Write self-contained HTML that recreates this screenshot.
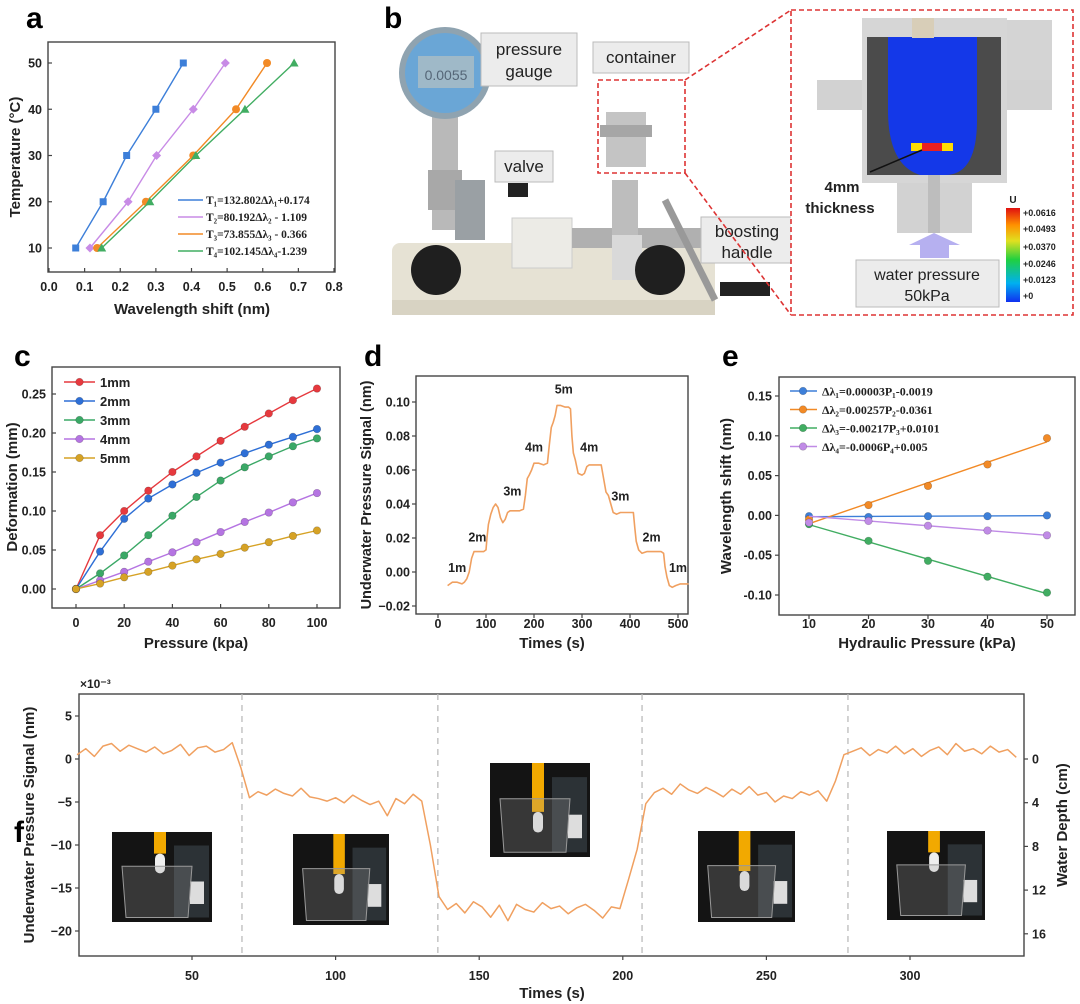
<!DOCTYPE html>
<html><head><meta charset="utf-8">
<style>
html,body{margin:0;padding:0;background:#fff;}
svg{display:block;font-family:"Liberation Sans",Arial,sans-serif;font-weight:bold;}
</style></head>
<body>
<svg id="fig" xmlns="http://www.w3.org/2000/svg" width="1080" height="1004" viewBox="0 0 1080 1004">
<!-- panel letters -->
<text x="26" y="28" font-size="30">a</text>
<text x="384" y="28" font-size="30">b</text>
<text x="14" y="366" font-size="30">c</text>
<text x="364" y="366" font-size="30">d</text>
<text x="722" y="366" font-size="30">e</text>
<text x="14" y="842" font-size="30">f</text>

<!-- Panel b photo illustration -->
<g>
  <rect x="392" y="243" width="323" height="72" rx="8" fill="#e6e2d4"/>
  <rect x="392" y="300" width="323" height="15" fill="#d8d3c3"/>
  <rect x="432" y="110" width="26" height="120" fill="#b9b9b9"/>
  <rect x="428" y="170" width="34" height="40" fill="#a8a8a8"/>
  <circle cx="445" cy="73" r="46" fill="#8fa3b0"/>
  <circle cx="445" cy="73" r="40" fill="#6aa6d6"/>
  <rect x="418" y="56" width="56" height="32" fill="#9fb9c8"/>
  <text x="446" y="80" font-size="14" font-weight="normal" fill="#567" text-anchor="middle">0.0055</text>
  <rect x="455" y="180" width="30" height="60" fill="#9aa0a4"/>
  <rect x="512" y="218" width="60" height="50" fill="#ecebe6" stroke="#ccc"/>
  <rect x="508" y="183" width="20" height="14" fill="#222"/>
  <rect x="572" y="228" width="140" height="20" fill="#b0b0b0"/>
  <rect x="612" y="180" width="26" height="70" fill="#bdbdbd"/>
  <rect x="606" y="112" width="40" height="55" fill="#c4c4c4"/>
  <rect x="600" y="125" width="52" height="12" fill="#a6a6a6"/>
  <rect x="612" y="235" width="30" height="45" fill="#d9d9d9"/>
  <line x1="665" y1="200" x2="715" y2="300" stroke="#999" stroke-width="7"/>
  <rect x="720" y="282" width="50" height="14" fill="#222"/>
  <circle cx="436" cy="270" r="25" fill="#1f1f1f"/>
  <circle cx="660" cy="270" r="25" fill="#1f1f1f"/>
  <rect x="481" y="33" width="96" height="53" fill="#ececec" stroke="#bbb"/>
  <text x="529" y="55" font-size="17" font-weight="normal" text-anchor="middle" fill="#222">pressure</text>
  <text x="529" y="77" font-size="17" font-weight="normal" text-anchor="middle" fill="#222">gauge</text>
  <rect x="593" y="42" width="96" height="31" fill="#ececec" stroke="#bbb"/>
  <text x="641" y="63" font-size="17" font-weight="normal" text-anchor="middle" fill="#222">container</text>
  <rect x="495" y="151" width="58" height="31" fill="#ececec" stroke="#bbb"/>
  <text x="524" y="172" font-size="17" font-weight="normal" text-anchor="middle" fill="#222">valve</text>
  <rect x="701" y="217" width="92" height="46" fill="#ececec" stroke="#bbb"/>
  <text x="747" y="237" font-size="17" font-weight="normal" text-anchor="middle" fill="#222">boosting</text>
  <text x="747" y="258" font-size="17" font-weight="normal" text-anchor="middle" fill="#222">handle</text>
  <rect x="598" y="80" width="87" height="93" fill="none" stroke="#d33" stroke-width="1.6" stroke-dasharray="5,3"/>
  <line x1="685" y1="80" x2="791" y2="10" stroke="#d33" stroke-width="1.6" stroke-dasharray="5,3"/>
  <line x1="685" y1="173" x2="791" y2="315" stroke="#d33" stroke-width="1.6" stroke-dasharray="5,3"/>
</g>
<g>
  <rect x="791" y="10" width="282" height="305" fill="#fff" stroke="#d33" stroke-width="1.6" stroke-dasharray="5,3"/>
  <path d="M817 80 L817 110 L865 110 L865 20 L1052 20 L1052 110 L1052 80 Z" fill="#d4d4d4"/>
  <rect x="817" y="80" width="45" height="30" fill="#d2d2d2"/>
  <rect x="1002" y="80" width="50" height="30" fill="#d2d2d2"/>
  <rect x="862" y="18" width="145" height="165" fill="#d6d6d6"/>
  <rect x="867" y="37" width="134" height="138" fill="#4b4b4b"/>
  <path d="M888 37 L977 37 L977 120 Q977 175 945 175 L920 175 Q888 165 888 110 Z" fill="#1438e8"/>
  <rect x="911" y="143" width="42" height="8" fill="#ffdd00"/>
  <rect x="922" y="143" width="20" height="8" fill="#e82020"/>
  <rect x="912" y="18" width="22" height="20" fill="#d8ceb8"/>
  <rect x="897" y="183" width="75" height="50" fill="#d2d2d2"/>
  <rect x="928" y="175" width="12" height="58" fill="#bdbdbd"/>
  <line x1="922" y1="150" x2="870" y2="172" stroke="#111" stroke-width="1.5"/>
  <text x="842" y="192" font-size="15" font-weight="bold" text-anchor="middle" fill="#222">4mm</text>
  <text x="840" y="213" font-size="15" font-weight="bold" text-anchor="middle" fill="#222">thickness</text>
  <path d="M920 245 L909 245 L934 233 L960 245 L949 245 L949 258 L920 258 Z" fill="#b6b0f0"/>
  <rect x="856" y="260" width="143" height="47" fill="#ececec" stroke="#bbb"/>
  <text x="927" y="280" font-size="16" font-weight="normal" text-anchor="middle" fill="#222">water pressure</text>
  <text x="927" y="301" font-size="16" font-weight="normal" text-anchor="middle" fill="#222">50kPa</text>
  <defs><linearGradient id="cb" x1="0" y1="1" x2="0" y2="0">
    <stop offset="0" stop-color="#1030f0"/><stop offset="0.2" stop-color="#00b0f0"/><stop offset="0.45" stop-color="#20d040"/><stop offset="0.65" stop-color="#e0e020"/><stop offset="0.82" stop-color="#ff9000"/><stop offset="1" stop-color="#e01010"/></linearGradient></defs>
  <rect x="1006" y="208" width="14" height="94" fill="url(#cb)"/>
  <text x="1013" y="203" font-size="10" fill="#222" text-anchor="middle">U</text>
  <g font-size="9" fill="#222" font-weight="bold">
  <text x="1023" y="216">+0.0616</text>
  <text x="1023" y="232">+0.0493</text>
  <text x="1023" y="250">+0.0370</text>
  <text x="1023" y="267">+0.0246</text>
  <text x="1023" y="283">+0.0123</text>
  <text x="1023" y="299">+0</text>
  </g>
</g>
<g id="charts"></g>
</svg>
<script>
// ---------- data: panel a ----------
const aSeriesNames = ['T1','T2','T3','T4'];
const aTemps = [10,20,30,40,50];
const aShift1 = [0.075,0.152,0.218,0.300,0.377];
const aShift2 = [0.115,0.222,0.302,0.405,0.495];
const aShift3 = [0.135,0.272,0.405,0.525,0.612];
const aShift4 = [0.148,0.283,0.412,0.550,0.688];
const aLegend = ['T\u2081=132.802\u0394\u03bb\u2081+0.174','T\u2082=80.192\u0394\u03bb\u2082 - 1.109','T\u2083=73.855\u0394\u03bb\u2083 - 0.366','T\u2084=102.145\u0394\u03bb\u2084-1.239'];
const aXTicks = [0,0.1,0.2,0.3,0.4,0.5,0.6,0.7,0.8];
const aYTicks = [10,20,30,40,50];
// ---------- data: panel c ----------
const cPressure = [0,10,20,30,40,50,60,70,80,90,100];
const c1mm = [0,0.069,0.100,0.126,0.150,0.170,0.190,0.208,0.225,0.242,0.257];
const c2mm = [0,0.048,0.090,0.116,0.134,0.149,0.162,0.174,0.185,0.195,0.205];
const c3mm = [0,0.020,0.043,0.069,0.094,0.118,0.139,0.156,0.170,0.183,0.193];
const c4mm = [0,0.011,0.022,0.035,0.047,0.060,0.073,0.086,0.098,0.111,0.123];
const c5mm = [0,0.007,0.015,0.022,0.030,0.038,0.045,0.053,0.060,0.068,0.075];
const cLegend = ['1mm','2mm','3mm','4mm','5mm'];
const cXTicks = [0,20,40,60,80,100];
const cYTicks = [0,0.05,0.10,0.15,0.20,0.25];
// ---------- data: panel d ----------
const dTime = [20,25,30,40,50,55,60,65,70,75,85,95,100,102,105,110,115,120,125,130,135,140,145,150,160,170,178,182,186,190,195,200,210,220,228,232,236,240,244,248,255,265,272,276,279,282,286,292,300,305,310,315,325,335,340,345,350,355,360,365,372,380,390,400,407,410,413,418,425,435,445,455,465,470,473,477,482,488,495,505,515,522];
const dSignal = [-0.008,-0.007,-0.006,-0.006,-0.007,-0.006,-0.004,0.000,0.008,0.012,0.012,0.012,0.013,0.020,0.028,0.034,0.038,0.040,0.038,0.032,0.029,0.031,0.035,0.036,0.036,0.036,0.037,0.045,0.055,0.057,0.060,0.064,0.064,0.063,0.064,0.075,0.085,0.088,0.092,0.098,0.098,0.097,0.097,0.096,0.080,0.070,0.066,0.058,0.057,0.058,0.062,0.063,0.063,0.063,0.063,0.055,0.047,0.045,0.040,0.035,0.034,0.035,0.035,0.035,0.035,0.026,0.018,0.013,0.011,0.012,0.012,0.012,0.012,0.011,0.003,-0.003,-0.008,-0.009,-0.008,-0.007,-0.007,-0.007];
const dLabelText = ['1m','2m','3m','4m','5m','4m','3m','2m','1m'];
const dLabelTime = [40,82,155,200,262,315,380,445,500];
const dLabelValue = [0.0,0.018,0.045,0.071,0.105,0.071,0.042,0.018,0.0];
const dXTicks = [0,100,200,300,400,500];
const dYTicks = [-0.02,0,0.02,0.04,0.06,0.08,0.10];
// ---------- data: panel e ----------
const ePressure = [10,20,30,40,50];
const eShift1 = [-0.001,-0.002,-0.001,-0.001,0.000];
const eShift2 = [-0.005,0.013,0.037,0.064,0.097];
const eShift3 = [-0.011,-0.032,-0.057,-0.077,-0.097];
const eShift4 = [-0.009,-0.007,-0.013,-0.019,-0.025];
const eSlopes = [0.00003,0.00257,-0.00217,-0.0006];
const eIntercepts = [-0.0019,-0.0361,0.0101,0.005];
const eLegend = ['\u0394\u03bb\u2081=0.00003P\u2081-0.0019','\u0394\u03bb\u2082=0.00257P\u2082-0.0361','\u0394\u03bb\u2083=-0.00217P\u2083+0.0101','\u0394\u03bb\u2084=-0.0006P\u2084+0.005'];
const eXTicks = [10,20,30,40,50];
const eYTicks = [-0.10,-0.05,0,0.05,0.10,0.15];
// ---------- data: panel f ----------
const fStart = 10, fStep = 3;
const fSignal = [0.5,1.2,0.3,1.5,1.8,0.9,1.6,1.2,0.8,1.4,0.6,1.0,1.7,0.4,1.3,1.5,0.8,1.1,1.9,-1.0,
 -4.5,-3.8,-4.2,-3.5,-4.0,-4.3,-3.4,-4.4,-4.6,-4.9,-4.5,-5.1,-4.2,-4.8,-5.3,-4.9,-6.6,-4.6,-5.2,-4.1,-4.9,
 -10.0,-16.0,-17.5,-16.8,-17.9,-16.6,-17.2,-18.4,-17.0,-18.8,-16.9,-17.5,-17.8,-16.7,-17.4,-17.1,-18.0,-17.3,-16.9,-17.6,-18.5,-17.2,-17.4,
 -14.0,-10.5,-5.2,-3.9,-3.4,-4.1,-2.9,-3.6,-4.0,-3.3,-3.8,-4.4,-3.5,-4.1,-3.2,-4.2,-3.9,-5.0,-4.3,-4.6,-3.8,-4.2,-3.7,-4.9,-2.6,
 0.5,0.9,1.3,0.4,1.1,0.7,1.5,0.6,1.2,0.3,1.0,1.4,0.5,1.8,0.9,1.2,0.6,1.5,0.8,1.1,0.2];
const fBoundaries = [67.4,135.6,206.7,278.4];
const fXTicks = [50,100,150,200,250,300];
const fYTicks = [-20,-15,-10,-5,0,5];
const fDepthTicks = [0,4,8,12,16];

const NS='http://www.w3.org/2000/svg';
const root=document.getElementById('charts');
function el(tag,attrs,parent){const e=document.createElementNS(NS,tag);for(const k in attrs)e.setAttribute(k,attrs[k]);(parent||root).appendChild(e);return e;}
function txt(x,y,s,size,anchor,name,extra){const t=el('text',Object.assign({x:x,y:y,'font-size':size,'text-anchor':anchor,fill:'#222'},extra||{}));t.textContent=s;


return t;}
function frame(x,y,w,h,name){const r=el('rect',{x:x,y:y,width:w,height:h,fill:'none',stroke:'#444','stroke-width':1.4});

}
function lin(d0,d1,p0,p1){return v=>p0+(v-d0)*(p1-p0)/(d1-d0);}
function xTicks(ticks,sx,yb,labY,inward,fmt,name){ticks.forEach(v=>{const x=sx(v);const l=el('line',{x1:x,x2:x,y1:yb,y2:yb+(inward?-4:4),stroke:'#444','stroke-width':1.2});


txt(x,labY,fmt(v),12.5,'middle',name+'-tick-label');});}
function yTicks(ticks,sy,xl,labX,inward,fmt,name){ticks.forEach(v=>{const y=sy(v);const l=el('line',{x1:xl,x2:xl+(inward?4:-4),y1:y,y2:y,stroke:'#444','stroke-width':1.2});


txt(labX,y+4.5,fmt(v),12.5,'end',name+'-tick-label');});}
function vtitle(x,y,s,name,size){txt(x,y,s,size||15,'middle',name,{transform:'rotate(-90 '+x+' '+y+')'});}
function poly(xs,ys,sx,sy,color,w,name){const p=el('polyline',{points:xs.map((v,i)=>sx(v)+','+sy(ys[i])).join(' '),fill:'none',stroke:color,'stroke-width':w,'stroke-linejoin':'round'});


return p;}
function marker(kind,x,y,color,name){let m;
if(kind==='sq')m=el('rect',{x:x-3.5,y:y-3.5,width:7,height:7,fill:color});
else if(kind==='di')m=el('polygon',{points:`${x},${y-4.5} ${x+4.5},${y} ${x},${y+4.5} ${x-4.5},${y}`,fill:color});
else if(kind==='tr')m=el('polygon',{points:`${x},${y-4.5} ${x+4.5},${y+3.5} ${x-4.5},${y+3.5}`,fill:color});
else m=el('circle',{cx:x,cy:y,r:kind==='ci'?4:3.8,fill:color,stroke:kind==='ci'?'none':'rgba(0,0,0,0.25)','stroke-width':0.6});

}
const f1=v=>v.toFixed(1),f2=v=>v.toFixed(2),f0=v=>String(v);

// ===== Panel a =====
{const sx=lin(0,0.8,49,334),sy=lin(10,50,248,63);
frame(48,42,287,230,'panel-a-frame');
xTicks(aXTicks,sx,272,291,true,f1,'a-x');
yTicks(aYTicks,sy,48,42,true,f0,'a-y');
txt(192,314,'Wavelength shift (nm)',15,'middle','a-x-axis-title');
vtitle(20,157,'Temperature (\u00b0C)','a-y-axis-title');
const sets=[aShift1,aShift2,aShift3,aShift4],cols=['#3d7fd9','#c88be6','#f28a26','#41ad62'],kinds=['sq','di','cir','tr'];
sets.forEach((s,i)=>{poly(s,aTemps,sx,sy,cols[i],1.4,'a-series-'+aSeriesNames[i]);s.forEach((v,j)=>marker(kinds[i]==='cir'?'ci':kinds[i],sx(v),sy(aTemps[j]),cols[i],'a-point-'+aSeriesNames[i]));
const ly=200+i*17;const l=el('line',{x1:178,x2:203,y1:ly,y2:ly,stroke:cols[i],'stroke-width':1.5});


txt(206,ly+4,aLegend[i],11.5,'start','a-legend-entry',{'font-family':'Liberation Serif,serif'});});}

// ===== Panel c =====
{const sx=lin(0,100,76,317),sy=lin(0,0.25,589,394);
frame(52,367,288,241,'panel-c-frame');
xTicks(cXTicks,sx,608,627,true,f0,'c-x');
yTicks(cYTicks,sy,52,46,true,f2,'c-y');
txt(196,648,'Pressure (kpa)',15,'middle','c-x-axis-title');
vtitle(17,487,'Deformation (mm)','c-y-axis-title');
const sets=[c1mm,c2mm,c3mm,c4mm,c5mm],cols=['#e6393e','#2e6fd6','#3aa866','#b574e2','#d6a225'];
sets.forEach((s,i)=>{poly(cPressure,s,sx,sy,cols[i],1.4,'c-series-'+cLegend[i]);cPressure.forEach((p,j)=>marker('c',sx(p),sy(s[j]),cols[i],'c-point-'+cLegend[i]));
const ly=382+i*19;const l=el('line',{x1:64,x2:95,y1:ly,y2:ly,stroke:cols[i],'stroke-width':1.5});


marker('c',79.5,ly,cols[i],'c-legend-marker');
txt(100,ly+5,cLegend[i],13,'start','c-legend-entry');});}

// ===== Panel d =====
{const sx=lin(0,500,438,678),sy=lin(0,0.10,572,402);
frame(416,376,272,238,'panel-d-frame');
xTicks(dXTicks,sx,614,628,false,f0,'d-x');
yTicks(dYTicks,sy,416,410,false,v=>v.toFixed(2).replace('-','\u2212'),'d-y');
txt(552,648,'Times (s)',15,'middle','d-x-axis-title');
vtitle(371,495,'Underwater Pressure Signal (nm)','d-y-axis-title',14.5);
poly(dTime,dSignal,sx,sy,'#f0a060',1.6,'d-signal-line');
dLabelText.forEach((s,i)=>txt(sx(dLabelTime[i]),sy(dLabelValue[i]),s,12.5,'middle','d-depth-label'));}

// ===== Panel e =====
{const sx=lin(10,50,809,1047),sy=lin(0,0.15,515.4,396);
frame(779,377,296,238,'panel-e-frame');
xTicks(eXTicks,sx,615,628,false,f0,'e-x');
yTicks(eYTicks,sy,779,772,false,f2,'e-y');
txt(927,648,'Hydraulic Pressure (kPa)',15,'middle','e-x-axis-title');
vtitle(731,496,'Wavelength shift (nm)','e-y-axis-title');
const sets=[eShift1,eShift2,eShift3,eShift4],cols=['#3d7fd9','#f28a26','#41ad62','#c08be6'];
sets.forEach((s,i)=>{const fx=[ePressure[0],ePressure[ePressure.length-1]];const fy=fx.map(p=>eSlopes[i]*p+eIntercepts[i]);
poly(fx,fy,sx,sy,cols[i],1.4,'e-fit-line-'+(i+1));
ePressure.forEach((p,j)=>marker('c',sx(p),sy(s[j]),cols[i],'e-point-'+(i+1)));
const ly=391+i*18.5;const l=el('line',{x1:790,x2:817,y1:ly,y2:ly,stroke:cols[i],'stroke-width':1.5});


marker('c',803,ly,cols[i],'e-legend-marker');
txt(822,ly+4.5,eLegend[i],12,'start','e-legend-entry',{'font-family':'Liberation Serif,serif'});});}

// ===== Panel f =====
{const sx=lin(50,300,192,910),sy=lin(0,5,759,716);
const sd=lin(0,4,759,802.7);
frame(79,694,945,262,'panel-f-frame');
xTicks(fXTicks,sx,956,980,false,f0,'f-x');
yTicks(fYTicks,sy,79,72,false,v=>String(v).replace('-','\u2212'),'f-y');
fDepthTicks.forEach(v=>{const y=sd(v);const l=el('line',{x1:1024,x2:1028,y1:y,y2:y,stroke:'#444','stroke-width':1.2});


txt(1032,y+4.5,String(v),12.5,'start','f-depth-tick-label');});
txt(80,688,'\u00d710\u207b\u00b3',12,'start','f-y-scale-factor');
txt(552,998,'Times (s)',15,'middle','f-x-axis-title');
vtitle(34,825,'Underwater Pressure Signal (nm)','f-y-axis-title');
vtitle(1067,825,'Water Depth (cm)','f-right-axis-title');
fBoundaries.forEach(t=>{const l=el('line',{x1:sx(t),x2:sx(t),y1:694,y2:956,stroke:'#bbb','stroke-width':1.3,'stroke-dasharray':'6,5'});

});
const fTime=fSignal.map((_,i)=>fStart+i*fStep);
poly(fTime,fSignal,sx,sy,'#f0a060',1.5,'f-signal-line');
// inset photos
const photos=[[112,832,100,90,0.3],[293,834,96,91,0.8],[490,763,100,94,1.0],[698,831,97,91,0.8],[887,831,98,89,0.3]];
photos.forEach((p,i)=>{const g=el('g',{});


const [x,y,w,h,len]=p;
el('rect',{x:x,y:y,width:w,height:h,fill:'#141414'},g);
el('rect',{x:x+w*0.62,y:y+h*0.15,width:w*0.35,height:h*0.8,fill:'#2c3236'},g);
el('rect',{x:x+w*0.78,y:y+h*0.55,width:w*0.14,height:h*0.25,fill:'#ddd'},g);
el('rect',{x:x+w*0.42,y:y,width:w*0.12,height:h*(0.12+0.4*len),fill:'#f2a900'},g);
el('rect',{x:x+w*0.43,y:y+h*(0.12+0.4*len),width:w*0.1,height:h*0.22,rx:5,fill:'#eee'},g);
el('path',{d:`M${x+w*0.1} ${y+h*0.38} L${x+w*0.8} ${y+h*0.38} L${x+w*0.76} ${y+h*0.95} L${x+w*0.14} ${y+h*0.95} Z`,fill:'rgba(160,160,160,0.25)',stroke:'#999','stroke-width':1},g);});}
</script>
</body></html>
